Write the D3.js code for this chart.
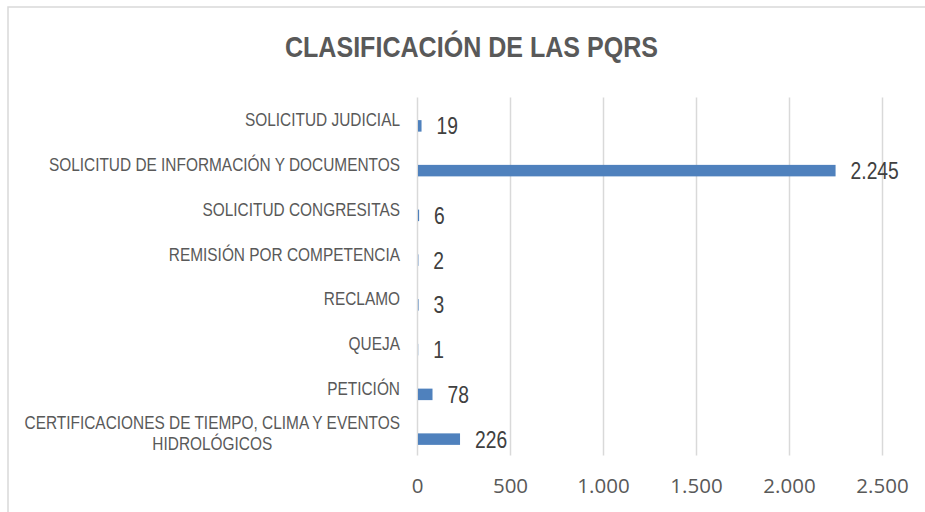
<!DOCTYPE html>
<html>
<head>
<meta charset="utf-8">
<script src="https://cdn.jsdelivr.net/npm/d3@7"></script>
<style>
  html, body { margin: 0; padding: 0; background: #fff; }
  svg { display: block; }
</style>
</head>
<body>
<svg id="chart" width="925" height="512"></svg>
<script>
// ---- data ----
const titleText = "CLASIFICACIÓN DE LAS PQRS";
const categories = [
  ["SOLICITUD JUDICIAL"],
  ["SOLICITUD DE INFORMACIÓN Y DOCUMENTOS"],
  ["SOLICITUD CONGRESITAS"],
  ["REMISIÓN POR COMPETENCIA"],
  ["RECLAMO"],
  ["QUEJA"],
  ["PETICIÓN"],
  ["CERTIFICACIONES DE TIEMPO, CLIMA Y EVENTOS", "HIDROLÓGICOS"]
];
const values = [19, 2245, 6, 2, 3, 1, 78, 226];
const tickValues = [0, 500, 1000, 1500, 2000, 2500];

// ---- layout ----
const W = 925, H = 512;
const plot = { left: 417, right: 882, top: 97.5, bottom: 455.5 };
const sans = "'Liberation Sans', Arial, sans-serif";
const NARROW = 0.82; // Arial Narrow ≈ Arial scaled horizontally
const fmt = d => d3.format(",")(d).replace(/,/g, ".");

const svg = d3.select("#chart");

// chart border
svg.append("rect")
  .attr("x", 8).attr("y", 7).attr("width", W + 20).attr("height", H + 20)
  .attr("fill", "#fff").attr("stroke", "#d9d9d9").attr("stroke-width", 1.5);

// title
svg.append("text")
  .attr("transform", `translate(471.5,57) scale(0.85,1)`)
  .attr("text-anchor", "middle")
  .attr("font-family", sans).attr("font-weight", "bold")
  .attr("font-size", 29.5).attr("fill", "#595959")
  .text(titleText);

const x = d3.scaleLinear().domain([0, 2500]).range([plot.left, plot.right]);
const y = d3.scaleBand().domain(d3.range(categories.length))
  .range([plot.top, plot.bottom]).paddingInner(0).paddingOuter(0);

// gridlines + bottom tick labels via axis
const xAxis = d3.axisBottom(x).tickValues(tickValues).tickSize(plot.bottom - plot.top).tickFormat(fmt);
const gx = svg.append("g").attr("transform", `translate(0,${plot.top})`).call(xAxis);
gx.select(".domain").remove();
gx.selectAll(".tick line").attr("stroke", "#d9d9d9").attr("stroke-width", 1.5);
gx.selectAll(".tick text")
  .attr("y", plot.bottom - plot.top + 31)
  .attr("dy", "0.32em")
  .attr("font-family", "'Open Sans', sans-serif")
  .attr("font-size", 20.5).attr("fill", "#595959");

// bars
const barH = 11.5, barOff = 6;
svg.append("g").selectAll("rect").data(values).join("rect")
  .attr("x", x(0) + 1)
  .attr("y", (d, i) => y(i) + y.bandwidth() / 2 + barOff - barH / 2)
  .attr("width", d => Math.max(0, x(d) - x(0)))
  .attr("height", barH)
  .attr("fill", "#4f81bd");

// value labels
svg.append("g").selectAll("text").data(values).join("text")
  .attr("transform", (d, i) => `translate(${x(d) + 16},${y(i) + y.bandwidth() / 2 + barOff}) scale(${NARROW},1)`)
  .attr("dy", "0.36em")
  .attr("font-family", sans).attr("font-size", 23.5).attr("fill", "#404040")
  .text(fmt);

// category labels
const labelRight = 400, lineH = 21;
const cg = svg.append("g");
categories.forEach((lines, i) => {
  const cy = y(i) + y.bandwidth() / 2;
  const g = cg.append("g").attr("transform", `translate(${labelRight},${cy}) scale(${NARROW},1)`);
  const t = g.append("text")
    .attr("font-family", sans).attr("font-size", 18.8).attr("fill", "#595959");
  const spans = lines.map((ln, k) => t.append("tspan")
    .attr("y", (k - (lines.length - 1) / 2) * lineH)
    .attr("dy", "0.35em")
    .text(ln));
  const widths = spans.map(s => s.node().getComputedTextLength());
  const maxW = d3.max(widths);
  if (lines.length === 1) {
    spans[0].attr("x", 0).attr("text-anchor", "end");
  } else {
    spans.forEach(s => s.attr("x", -maxW / 2).attr("text-anchor", "middle"));
  }
});
</script>
</body>
</html>
